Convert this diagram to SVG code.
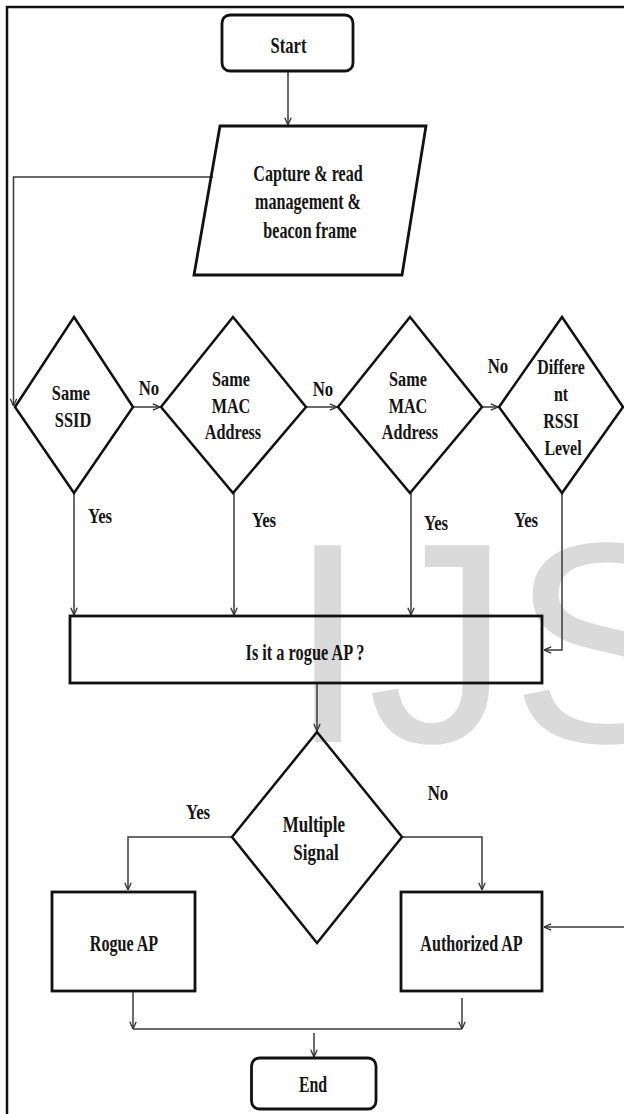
<svg xmlns="http://www.w3.org/2000/svg" width="624" height="1114" viewBox="0 0 624 1114">
  <style>
    .shape { fill: none; stroke: #111; stroke-width: 2.8; stroke-linejoin: miter; }
    .dia { fill: none; stroke: #111; stroke-width: 2.5; }
    .conn { fill: none; stroke: #3a3a3a; stroke-width: 1.5; }
    .t { font-family: "Liberation Serif", "Times New Roman", serif; font-weight: bold; text-anchor: middle; fill: #151515; }
    .big { font-size: 23px; }
    .mid { font-size: 21px; }
    .wm { font-family: "Liberation Sans", Arial, sans-serif; font-size: 286px; fill: #dadada; }
  </style>
  <defs>
    <marker id="arr" viewBox="0 0 10 10" refX="10" refY="5" markerWidth="8" markerHeight="8" markerUnits="userSpaceOnUse" orient="auto">
      <path d="M1,1 L10,5 L1,9" fill="none" stroke="#333" stroke-width="1.6"/>
    </marker>
  </defs>

  <rect width="624" height="1114" fill="#fff"/>

  <!-- watermark -->
  <text class="wm" x="288" y="742">IJS</text>

  <!-- page frame -->
  <path d="M7,1114 V7 H624" fill="none" stroke="#111" stroke-width="2.5"/>

  <!-- connectors -->
  <g id="connectors">
    <path class="conn" d="M288,71 V125" marker-end="url(#arr)"/>
    <path class="conn" d="M213,177 H13.5 V406" marker-end="url(#arr)"/>
    <path class="conn" d="M133,407 H160" marker-end="url(#arr)"/>
    <path class="conn" d="M306,407 H337" marker-end="url(#arr)"/>
    <path class="conn" d="M482,407 H498" marker-end="url(#arr)"/>
    <path class="conn" d="M74,493 V615" marker-end="url(#arr)"/>
    <path class="conn" d="M234,493 V615" marker-end="url(#arr)"/>
    <path class="conn" d="M411,493 V615" marker-end="url(#arr)"/>
    <path class="conn" d="M562,493 V650 H544" marker-end="url(#arr)"/>
    <path class="conn" d="M317,684 V731" marker-end="url(#arr)"/>
    <path class="conn" d="M232,837 H128 V890" marker-end="url(#arr)"/>
    <path class="conn" d="M402,837 H482 V890" marker-end="url(#arr)"/>
    <path class="conn" d="M624,927 H544" marker-end="url(#arr)"/>
    <path class="conn" d="M133,991 V1029" marker-end="url(#arr)"/>
    <path class="conn" d="M462,998 V1029" marker-end="url(#arr)"/>
    <path class="conn" d="M133,1029 H462"/>
    <path class="conn" d="M314,1033 V1057" marker-end="url(#arr)"/>

    <!-- branch labels -->
    <g class="t mid">
      <text transform="translate(149,395) scale(0.8,1)">No</text>
      <text transform="translate(323,396) scale(0.8,1)">No</text>
      <text transform="translate(498,373) scale(0.8,1)">No</text>
      <text transform="translate(100,523) scale(0.8,1)">Yes</text>
      <text transform="translate(264,527) scale(0.8,1)">Yes</text>
      <text transform="translate(436,530) scale(0.8,1)">Yes</text>
      <text transform="translate(526,527) scale(0.8,1)">Yes</text>
      <text transform="translate(438,800) scale(0.8,1)">No</text>
      <text transform="translate(198,819) scale(0.8,1)">Yes</text>
    </g>
  </g>

  <g id="start">
    <rect class="shape" x="222" y="15" width="131" height="56" rx="8"/>
    <text class="t big" transform="translate(288.5,53) scale(0.72,1)">Start</text>
  </g>

  <g id="capture">
    <polygon class="shape" points="220,126 426,126 402,275 194,275"/>
    <text class="t big" transform="translate(310,0) scale(0.7,1)">
      <tspan x="0" y="181">Capture &amp; read</tspan>
      <tspan x="0" y="209.5">management &amp;</tspan>
      <tspan x="0" y="238">beacon frame</tspan>
    </text>
  </g>

  <g id="same-ssid">
    <polygon class="dia" points="74,317 133,407 74,493 15,407"/>
    <text class="t mid" transform="translate(73,0) scale(0.78,1)">
      <tspan x="0" y="400">Same</tspan>
      <tspan x="0" y="427">SSID</tspan>
    </text>
  </g>

  <g id="same-mac-1">
    <polygon class="dia" points="233,317 306,407 233,493 161,407"/>
    <text class="t mid" transform="translate(233,0) scale(0.77,1)">
      <tspan x="0" y="386">Same</tspan>
      <tspan x="0" y="413">MAC</tspan>
      <tspan x="0" y="439">Address</tspan>
    </text>
  </g>

  <g id="same-mac-2">
    <polygon class="dia" points="410,317 482,407 410,493 338,407"/>
    <text class="t mid" transform="translate(410,0) scale(0.77,1)">
      <tspan x="0" y="386">Same</tspan>
      <tspan x="0" y="413">MAC</tspan>
      <tspan x="0" y="439">Address</tspan>
    </text>
  </g>

  <g id="rssi">
    <polygon class="dia" points="562,317 623,407 562,493 499,407"/>
    <text class="t mid" transform="translate(563,0) scale(0.76,1)">
      <tspan x="0" y="374">Differe</tspan>
      <tspan x="0" y="401">nt</tspan>
      <tspan x="0" y="428">RSSI</tspan>
      <tspan x="0" y="455">Level</tspan>
    </text>
  </g>

  <g id="rogue-check">
    <rect class="shape" x="70" y="616" width="472" height="67"/>
    <text class="t big" transform="translate(305,660) scale(0.71,1)">Is it a rogue AP ?</text>
  </g>

  <g id="multiple-signal">
    <polygon class="dia" points="317,732 402,837 317,943 232,837"/>
    <text class="t big" transform="translate(316,0) scale(0.74,1)">
      <tspan x="0" y="832">Multiple</tspan>
      <tspan x="0" y="860">Signal</tspan>
    </text>
  </g>

  <g id="rogue-ap">
    <rect class="shape" x="52" y="892" width="143" height="99"/>
    <text class="t big" transform="translate(124,951) scale(0.7,1)">Rogue AP</text>
  </g>

  <g id="authorized-ap">
    <rect class="shape" x="401" y="892" width="141" height="99"/>
    <text class="t big" transform="translate(471.5,951) scale(0.7,1)">Authorized AP</text>
  </g>

  <g id="end">
    <rect class="shape" x="251.5" y="1058" width="124.5" height="51" rx="8"/>
    <text class="t big" transform="translate(313,1092) scale(0.69,1)">End</text>
  </g>
</svg>
